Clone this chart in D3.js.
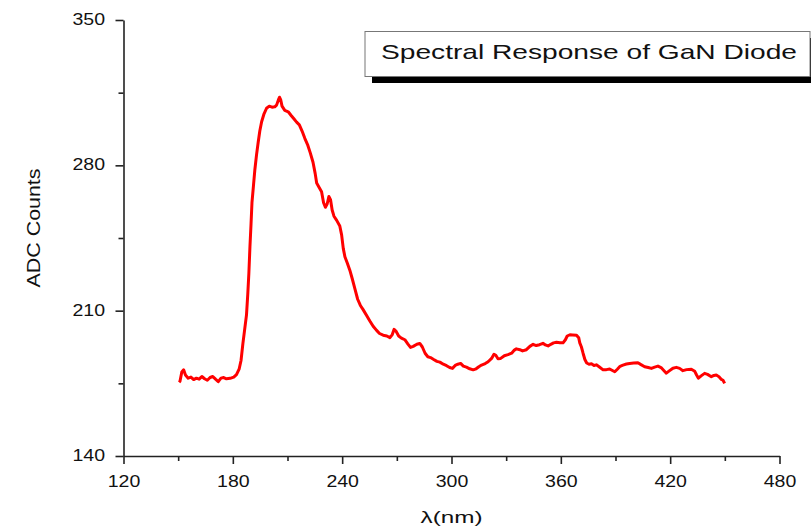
<!DOCTYPE html>
<html>
<head>
<meta charset="utf-8">
<script src="https://cdn.jsdelivr.net/npm/d3@7"></script>
<style>
  body { margin: 0; background: #fff; }
  text { font-family: "Liberation Sans", Arial, sans-serif; fill: #111; }
</style>
</head>
<body>
<svg id="chart" width="811" height="527"></svg>
<script>
// spectral response, wavelength (nm) vs ADC counts
var wavelengths = [150.5,151,152,153,154,155.5,157,158.5,160,161.5,163,164.5,166,167.5,169,170.5,172,173.5,175,176.5,178.5,180.5,182,183.5,184.5,185.5,186.5,187.5,188.2,188.8,189.4,190,190.5,191.3,192.1,193,193.9,194.8,195.8,197,198.5,200,201.5,203,204,205,205.6,206.3,207,208.5,210.4,212,213.5,215,216.5,218,219.5,221,222.5,224,225.2,226,227.3,228.7,229.8,230.8,231.8,232.7,233.6,234.5,235.5,237,238.7,239.7,240.6,241.5,242.8,244.2,245.5,247,248.5,250,251.5,253.5,255.2,257,258.9,260.5,262.5,264.5,266.2,267.5,268.5,269.5,271,272.5,274.4,276,277.5,279,281,282.6,284,285.5,287,288.5,290,292,293.6,295.5,297.3,299,300.5,302,303.5,305,306.5,308.2,310,311.9,313.5,315,316.5,318.5,320.1,322,323.3,324.3,325.5,327,329,331,333,334.5,335.6,337.5,339,341.1,343,344.8,346.5,348.3,350.2,351.5,353,354.5,356,357.6,359.5,361.2,362.5,363.5,365,366.5,368.6,369.8,370.4,371.3,372.2,373.2,374.2,375.5,376.8,378.2,379.5,381,383.2,385,386.8,388.3,389.6,391,392.5,394.1,396,397.8,400,402.3,404,406,408,409.7,411.5,413.3,415,416.5,417.9,419.5,421.5,423.4,425.2,427,429,431.6,433.5,434.5,435.5,437,438.9,440.5,442.6,444,445.3,446.8,448.1,449,449.9];
var counts = [175.5,176,180.5,181.5,179,177.5,178,176.8,177.5,177,178.3,177.2,176.5,177.8,178.3,177,175.8,177.5,177.8,177.2,177.4,178,179.2,182,186,194,201,208,218,228,241,252,262,270,278,285,291,296.5,301,304.5,307.5,308.5,308,308.2,309,311.5,312.8,311.5,308.5,306.5,305.8,304,302.4,300.8,299.5,296.5,293,290,286,281.5,276,271.5,269.5,267.3,262,259.8,261.5,265,263.5,258.5,255.5,253.5,250.8,246.5,240,236,233,229.5,225.5,220.5,215.5,212.5,210.5,207.5,205,202.5,200.5,199,198.2,197.8,197,198.5,201,200.2,197.8,196.8,196,194,192.3,192.8,193.8,194.2,192.5,189.5,187.8,187.4,186.6,185.6,185.2,184.2,183.5,182.6,182.2,183.6,184.2,184.6,183.3,182.8,182,181.5,182,183,183.8,184.5,185.4,187,189,188.5,186.8,187,188.3,188.8,189.5,191,191.6,191.2,190.6,191.2,192.8,193.8,193.2,193.6,194.3,193.5,193,193.8,194.5,194.8,194.6,194.5,196,197.8,198.4,198.3,198.2,197,194.5,192.5,189.5,186.5,184.8,184.2,184.4,183.6,183.9,183,181.5,181.6,181.9,181.2,180.6,181.8,183.2,183.8,184.3,184.6,184.8,184.9,184,183,182.6,182.2,182.8,183.3,182.6,181.2,179.9,181,182.3,182.7,182.2,181.1,181.6,181.8,180.8,179,177.5,178.6,179.8,179.3,178.2,178.8,179,178.2,176.9,176.5,175];

var xMajor = [120, 180, 240, 300, 360, 420, 480];
var xMinor = [150, 210, 270, 330, 390, 450];
var yMajor = [140, 210, 280, 350];
var yMinor = [175, 245, 315];

var titleText = "Spectral Response of GaN Diode";
var xLabel = "\u03bb(nm)";
var yLabel = "ADC Counts";

var svg = d3.select("#chart");
var margin = {top: 20, right: 31.5, bottom: 71, left: 123.5};
var W = 811, H = 527;

var x = d3.scaleLinear().domain([120, 480]).range([margin.left, W - margin.right]);
var y = d3.scaleLinear().domain([140, 350]).range([H - margin.bottom, margin.top]);

// the scan's font is rendered wide, so stretch text to the measured widths
var widen = function(sel, target) {
  sel.each(function() {
    var w = target || this.getComputedTextLength() * 1.22;
    this.setAttribute("textLength", w);
    this.setAttribute("lengthAdjust", "spacingAndGlyphs");
  });
};

var styleAxis = function(g) {
  g.select(".domain").attr("stroke", "#222").attr("stroke-width", 1.6);
  g.selectAll(".tick line").attr("stroke", "#222").attr("stroke-width", 1.6);
};

// bottom axis
var gx = svg.append("g").attr("transform", "translate(0," + y(140) + ")")
  .call(d3.axisBottom(x).tickValues(xMajor).tickSize(8).tickSizeOuter(0).tickFormat(d3.format("d")));
gx.call(styleAxis);
gx.selectAll(".tick text").attr("y", 30.5).attr("dy", null)
  .style("font-size", "16px").attr("fill", "#111").call(widen);
svg.append("g").attr("transform", "translate(0," + y(140) + ")")
  .call(d3.axisBottom(x).tickValues(xMinor).tickSize(5).tickFormat(""))
  .call(styleAxis).select(".domain").remove();

// left axis
var gy = svg.append("g").attr("transform", "translate(" + x(120) + ",0)")
  .call(d3.axisLeft(y).tickValues(yMajor).tickSize(8).tickSizeOuter(0).tickFormat(d3.format("d")));
gy.call(styleAxis);
gy.selectAll(".tick text").attr("x", -18.5).attr("dy", "0.28em")
  .style("font-size", "16px").attr("fill", "#111").call(widen);
svg.append("g").attr("transform", "translate(" + x(120) + ",0)")
  .call(d3.axisLeft(y).tickValues(yMinor).tickSize(5).tickFormat(""))
  .call(styleAxis).select(".domain").remove();

// axis titles
svg.append("text").attr("x", (x(120) + x(480)) / 2).attr("y", 523)
  .attr("text-anchor", "middle").style("font-size", "17px")
  .text(xLabel).call(widen, 62);
svg.append("text").attr("transform", "translate(40," + 228 + ") rotate(-90)")
  .attr("text-anchor", "middle").style("font-size", "18px")
  .text(yLabel).call(widen, 119);

// spectrum
var pts = wavelengths.map(function(w, i) { return [w, counts[i]]; });
var line = d3.line().x(function(d) { return x(d[0]); }).y(function(d) { return y(d[1]); });
svg.append("path").datum(pts)
  .attr("d", line)
  .attr("fill", "none")
  .attr("stroke", "#ff0000")
  .attr("stroke-width", 3)
  .attr("stroke-linejoin", "round");

// title box with drop shadow
var box = {x: 365, y: 31.5, w: 445, h: 45};
svg.append("rect").attr("x", box.x + 7).attr("y", box.y + 6.5)
  .attr("width", box.w).attr("height", box.h).attr("fill", "#000");
svg.append("rect").attr("x", box.x).attr("y", box.y)
  .attr("width", box.w).attr("height", box.h)
  .attr("fill", "#fff").attr("stroke", "#777").attr("stroke-width", 1);
svg.append("text").attr("x", 381).attr("y", 58.5)
  .style("font-size", "21px").text(titleText).call(widen, 416);
</script>
</body>
</html>
